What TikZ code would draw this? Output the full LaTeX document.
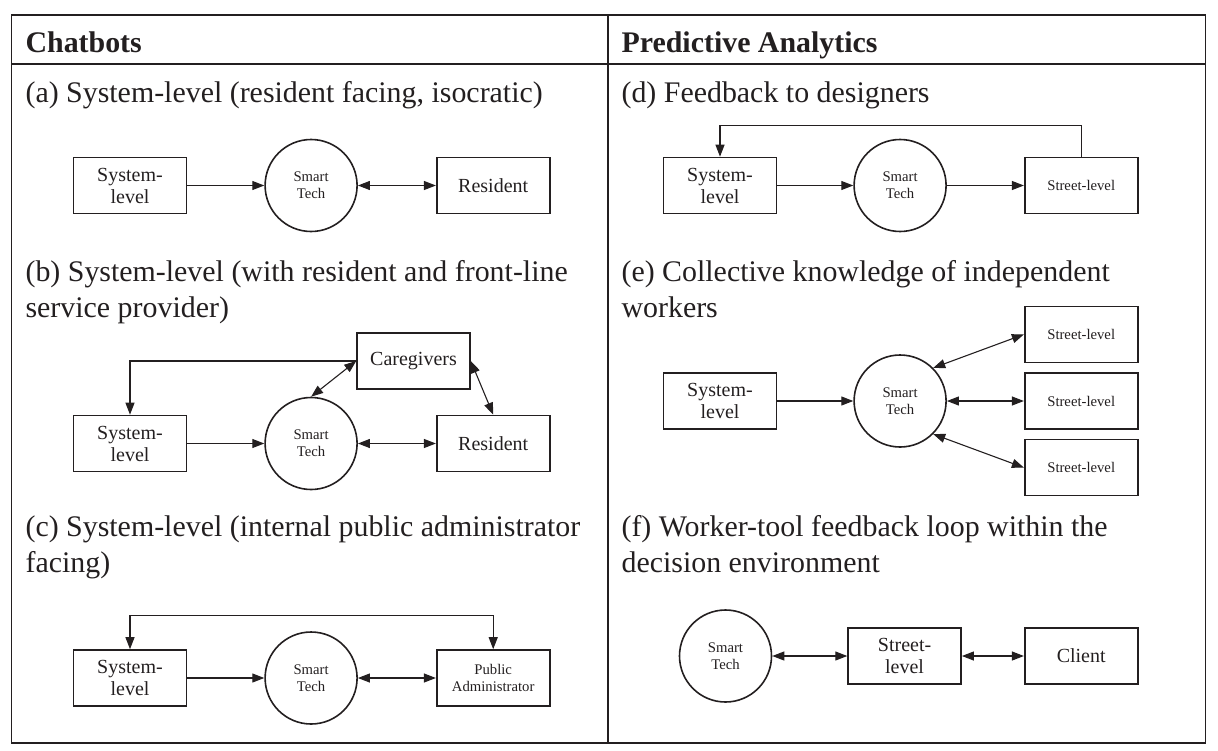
\documentclass[tikz,border=0pt]{standalone}
\usepackage{fontspec}
\setmainfont{Liberation Serif}
\usepackage{xcolor}
\usetikzlibrary{positioning}
\usetikzlibrary{arrows.meta}
\definecolor{ink}{HTML}{231F20}

\begin{document}
\begin{tikzpicture}[x=1pt, y=-1pt, color=ink, line width=1.1pt, >={Triangle[length=12pt,width=9pt]}]
    \tikzstyle{box}=[draw, rectangle, line width=1.6pt, minimum width=113pt, minimum height=56pt, inner sep=0pt, align=center, font=\fontsize{20}{22}\selectfont]
    \tikzstyle{small box}=[box, font=\fontsize{14.7}{16.7}\selectfont]
    \tikzstyle{tech}=[draw, circle, line width=1.6pt, minimum size=92pt, inner sep=0pt, align=center, font=\fontsize{14.7}{16.7}\selectfont]
    \tikzstyle{heading}=[anchor=base west, inner sep=0pt, font=\fontsize{29.9}{36}\selectfont\bfseries]
    \tikzstyle{caption}=[anchor=base west, inner sep=0pt, font=\fontsize{29.9}{36}\selectfont]

    \useasboundingbox (0,0) rectangle (1218,750);

    % table frame
    \draw[line width=1.8pt] (11.5,15) rectangle (1205.5,743);
    \draw[line width=1.8pt] (11.5,64) -- (1205.5,64);
    \draw[line width=1.8pt] (608,15) -- (608,743);

    \node[heading] (chat-head) at (25,52) {Chatbots};
    \node[heading] (pred-head) at (621,52) {Predictive Analytics};

    \node[caption] (a-cap) at (25,102) {(a) System-level (resident facing, isocratic)};
    \node[caption] (b-cap) at (25,281) {\parbox[t]{580pt}{\raggedright (b) System-level (with resident and front-line\\service provider)}};
    \node[caption] (c-cap) at (25,536) {\parbox[t]{580pt}{\raggedright (c) System-level (internal public administrator\\facing)}};
    \node[caption] (d-cap) at (621,102) {(d) Feedback to designers};
    \node[caption] (e-cap) at (621,281) {\parbox[t]{580pt}{\raggedright (e) Collective knowledge of independent\\workers}};
    \node[caption] (f-cap) at (621,536) {\parbox[t]{580pt}{\raggedright (f) Worker-tool feedback loop within the\\decision environment}};

    % (a)
    \node[box] (a-sys) at (130,185.5) {System-\\level};
    \node[tech, right=77pt of a-sys] (a-tech) {Smart\\Tech};
    \node[box, right=78pt of a-tech] (a-res) {Resident};
    \draw[->] (a-sys) -- (a-tech);
    \draw[<->] (a-tech) -- (a-res);

    % (b)
    \node[box] (b-sys) at (130,443.5) {System-\\level};
    \node[tech, right=77pt of b-sys] (b-tech) {Smart\\Tech};
    \node[box, right=78pt of b-tech] (b-res) {Resident};
    \node[box] (b-care) at (413.5,361) {Caregivers};
    \draw[->] (b-sys) -- (b-tech);
    \draw[<->] (b-tech) -- (b-res);
    \draw[<->] (b-tech.north) -- (b-care.west);
    \draw[<->] (b-care.east) -- (b-res.north);
    \draw[->] (b-care.west) -| (b-sys.north);

    % (c)
    \node[box] (c-sys) at (130,678) {System-\\level};
    \node[tech, right=77pt of c-sys] (c-tech) {Smart\\Tech};
    \node[small box, right=78pt of c-tech] (c-pub) {Public\\Administrator};
    \draw[->] (c-sys) -- (c-tech);
    \draw[<->] (c-tech) -- (c-pub);
    \draw[<->] (c-sys.north) -- ++(0,-34) -| (c-pub.north);

    % (d)
    \node[box] (d-sys) at (720,185.5) {System-\\level};
    \node[tech, right=76pt of d-sys] (d-tech) {Smart\\Tech};
    \node[small box, right=77pt of d-tech] (d-street) {Street-level};
    \draw[->] (d-sys) -- (d-tech);
    \draw[->] (d-tech) -- (d-street);
    \draw[->] (d-street.north) -- ++(0,-31) -| (d-sys.north);

    % (e)
    \node[box] (e-sys) at (720,401) {System-\\level};
    \node[tech, right=76pt of e-sys] (e-tech) {Smart\\Tech};
    \node[small box, right=77pt of e-tech] (e-street2) {Street-level};
    \node[small box, above=9pt of e-street2] (e-street1) {Street-level};
    \node[small box, below=9pt of e-street2] (e-street3) {Street-level};
    \draw[->] (e-sys) -- (e-tech);
    \draw[<->] (e-tech.45) -- (e-street1.west);
    \draw[<->] (e-tech) -- (e-street2);
    \draw[<->] (e-tech.-45) -- (e-street3.west);

    % (f)
    \node[tech] (f-tech) at (725.5,656) {Smart\\Tech};
    \node[box, right=75pt of f-tech] (f-street) {Street-\\level};
    \node[box, right=62pt of f-street] (f-client) {Client};
    \draw[<->] (f-tech) -- (f-street);
    \draw[<->] (f-street) -- (f-client);
\end{tikzpicture}
\end{document}
